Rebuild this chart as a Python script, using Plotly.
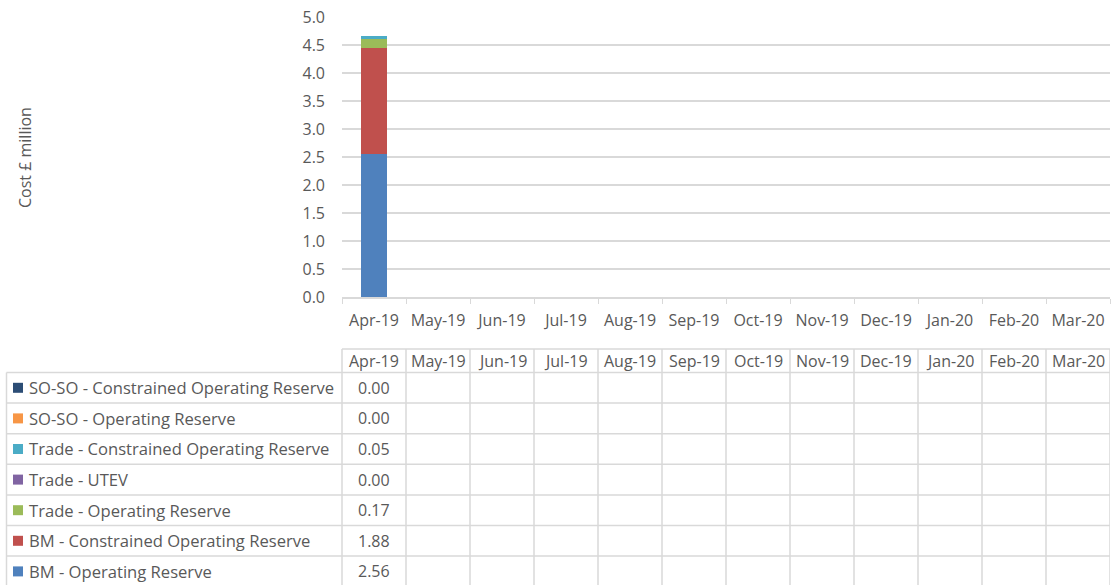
import plotly.graph_objects as go

# months on the category axis
months = ["Apr-19", "May-19", "Jun-19", "Jul-19", "Aug-19", "Sep-19",
          "Oct-19", "Nov-19", "Dec-19", "Jan-20", "Feb-20", "Mar-20"]

# cost per month, £ million (only April reported)
bm_or = [2.56, None, None, None, None, None, None, None, None, None, None, None]
bm_cor = [1.88, None, None, None, None, None, None, None, None, None, None, None]
trade_or = [0.17, None, None, None, None, None, None, None, None, None, None, None]
trade_utev = [0.00, None, None, None, None, None, None, None, None, None, None, None]
trade_cor = [0.05, None, None, None, None, None, None, None, None, None, None, None]
soso_or = [0.00, None, None, None, None, None, None, None, None, None, None, None]
soso_cor = [0.00, None, None, None, None, None, None, None, None, None, None, None]

# stacking order, bottom to top
series = [
    ("BM - Operating Reserve", bm_or, "#4F81BD"),
    ("BM - Constrained Operating Reserve", bm_cor, "#C0504D"),
    ("Trade - Operating Reserve", trade_or, "#9BBB59"),
    ("Trade - UTEV", trade_utev, "#8064A2"),
    ("Trade - Constrained Operating Reserve", trade_cor, "#4BACC6"),
    ("SO-SO - Operating Reserve", soso_or, "#F79646"),
    ("SO-SO - Constrained Operating Reserve", soso_cor, "#2C4D75"),
]

W, H = 1115, 585
L, R, T, B = 342, 1110, 17, 297   # plot area in pixels
TXT = "#595959"
GRID = "#D9D9D9"
FONT = "Open Sans"
FS = 16


def py(p):
    # pixel row -> paper y
    return (B - p) / (B - T)


def px(p):
    # pixel column -> paper x
    return (p - L) / (R - L)


fig = go.Figure()
for name, vals, col in series:
    fig.add_trace(go.Bar(x=months, y=vals, name=name, marker_color=col,
                         marker_line_width=0, showlegend=False))

shapes = []
ann = []

# data table geometry
head_top, row_top, row_h = 349, 372.5, 30.6
n_rows = len(series)
bottom = row_top + row_h * n_rows
line = dict(color=GRID, width=1.5)

# horizontal lines
shapes.append(dict(type="line", xref="paper", yref="paper", x0=0, x1=1,
                   y0=py(head_top), y1=py(head_top), line=line))
for k in range(n_rows + 1):
    yy = py(row_top + k * row_h)
    shapes.append(dict(type="line", xref="paper", yref="paper",
                       x0=px(6.5), x1=1, y0=yy, y1=yy, line=line))
# vertical lines
shapes.append(dict(type="line", xref="paper", yref="paper", x0=px(6.5), x1=px(6.5),
                   y0=py(row_top), y1=py(bottom), line=line))
shapes.append(dict(type="line", xref="paper", yref="paper", x0=0, x1=0,
                   y0=py(head_top), y1=py(bottom), line=line))
for i in range(1, len(months) + 1):
    shapes.append(dict(type="line", xref="x", yref="paper", x0=i - 0.5, x1=i - 0.5,
                       y0=py(head_top), y1=py(bottom), line=line))

# header labels
for m in months:
    ann.append(dict(x=m, y=py((head_top + row_top) / 2), xref="x", yref="paper",
                    yanchor="middle", text=m, showarrow=False,
                    font=dict(color=TXT, size=FS, family=FONT)))

# rows: top to bottom is reverse of stacking
for k, (name, vals, col) in enumerate(reversed(series)):
    yc_px = row_top + (k + 0.5) * row_h
    yc = py(yc_px)
    shapes.append(dict(type="rect", xref="paper", yref="paper",
                       x0=px(13), x1=px(23), y0=py(yc_px - 5), y1=py(yc_px + 5),
                       fillcolor=col, line=dict(width=0)))
    ann.append(dict(x=px(27), y=yc, xref="paper", yref="paper", xanchor="left",
                    yanchor="middle", text=name, showarrow=False,
                    font=dict(color=TXT, size=16.6, family=FONT)))
    for m, v in zip(months, vals):
        if v is None:
            continue
        ann.append(dict(x=m, y=yc, xref="x", yref="paper", yanchor="middle",
                        text=f"{v:.2f}", showarrow=False,
                        font=dict(color=TXT, size=FS, family=FONT)))

# y-axis title
ann.append(dict(x=px(25), y=py(158), xref="paper", yref="paper", text="Cost £ million",
                xanchor="center", yanchor="middle", textangle=-90, showarrow=False,
                font=dict(color=TXT, size=FS, family=FONT)))

fig.update_layout(
    width=W, height=H,
    margin=dict(l=L, r=W - R, t=T, b=H - B, pad=0),
    barmode="stack", bargap=0.59,
    plot_bgcolor="white", paper_bgcolor="white",
    font=dict(family=FONT, size=FS, color=TXT),
    xaxis=dict(type="category", range=[-0.5, 11.5], showgrid=False,
               showline=True, linecolor=GRID, linewidth=1.5,
               ticks="outside", tickson="boundaries", ticklen=5, tickcolor=GRID,
               ticklabelstandoff=8, tickfont=dict(size=FS, color=TXT)),
    yaxis=dict(range=[0, 5], dtick=0.5, tickformat=".1f", showgrid=True,
               gridcolor=GRID, gridwidth=1.5, zeroline=False, showline=False,
               ticklabelstandoff=16, tickfont=dict(size=FS, color=TXT)),
    shapes=shapes, annotations=ann,
)

fig.write_html("out.html", config={"displayModeBar": False},
               post_script="document.body.style.margin='0';")
